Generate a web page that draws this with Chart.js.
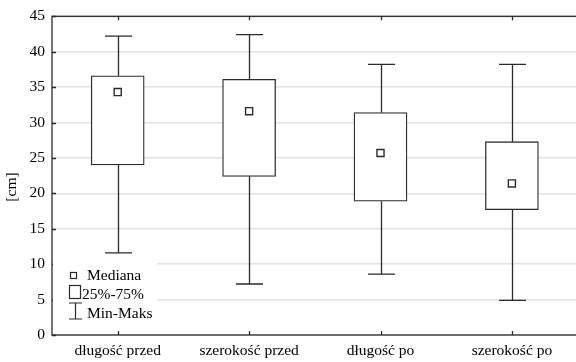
<!DOCTYPE html>
<html>
<head>
<meta charset="utf-8">
<script src="https://cdn.jsdelivr.net/npm/chart.js@4.4.1/dist/chart.umd.min.js"></script>
<style>
  html, body { margin: 0; padding: 0; background: #fff; overflow: hidden; }
  #wrap { width: 584px; height: 362px; }
</style>
</head>
<body>
<div id="wrap"><canvas id="boxChart" width="584" height="362"></canvas></div>
<script>
// dane
const categories = ['długość przed', 'szerokość przed', 'długość po', 'szerokość po'];
const minVals = [11.6, 7.2, 8.6, 4.9];
const q1Vals = [24.0, 22.4, 18.9, 17.7];
const medianVals = [34.3, 31.6, 25.7, 21.4];
const q3Vals = [36.6, 36.1, 31.4, 27.3];
const maxVals = [42.2, 42.4, 38.2, 38.2];
const yTicks = [0, 5, 10, 15, 20, 25, 30, 35, 40, 45];

const FONT = 'Liberation Serif';
const LINE = '#2b2b2b';

// wąsy, ramka i legenda rysowane przez skale Chart.js
const boxDecor = {
    id: 'boxDecor',
    beforeDatasetsDraw(chart) {
        const ctx = chart.ctx;
        const x = chart.scales.x, y = chart.scales.y;
        ctx.save();
        ctx.strokeStyle = LINE;
        ctx.lineWidth = 1.3;
        categories.forEach((c, i) => {
            const cx = Math.round(x.getPixelForValue(i)) + 0.5;
            const yMin = y.getPixelForValue(minVals[i]);
            const yMax = y.getPixelForValue(maxVals[i]);
            const yQ1 = y.getPixelForValue(q1Vals[i]);
            const yQ3 = y.getPixelForValue(q3Vals[i]);
            ctx.beginPath();
            ctx.moveTo(cx, yQ3); ctx.lineTo(cx, yMax);
            ctx.moveTo(cx - 13.5, yMax); ctx.lineTo(cx + 13.5, yMax);
            ctx.moveTo(cx, yQ1); ctx.lineTo(cx, yMin);
            ctx.moveTo(cx - 13.5, yMin); ctx.lineTo(cx + 13.5, yMin);
            ctx.stroke();
        });
        ctx.restore();
    },
    afterDraw(chart) {
        const ctx = chart.ctx;
        const a = chart.chartArea;
        const x = chart.scales.x, y = chart.scales.y;
        ctx.save();
        // ramka
        ctx.strokeStyle = LINE;
        ctx.lineWidth = 1.3;
        ctx.strokeRect(a.left, a.top, a.right - a.left, a.bottom - a.top);
        // znaczniki osi (do środka)
        ctx.beginPath();
        categories.forEach((c, i) => {
            const cx = Math.round(x.getPixelForValue(i)) + 0.5;
            ctx.moveTo(cx, a.top); ctx.lineTo(cx, a.top + 4);
            ctx.moveTo(cx, a.bottom); ctx.lineTo(cx, a.bottom - 4);
        });
        yTicks.forEach(v => {
            const py = Math.round(y.getPixelForValue(v)) + 0.5;
            ctx.moveTo(a.left, py); ctx.lineTo(a.left + 4, py);
        });
        ctx.stroke();

        // tytuł osi Y
        ctx.fillStyle = '#000';
        ctx.font = '15.5px "' + FONT + '"';
        ctx.save();
        ctx.translate(12, 187);
        ctx.rotate(-Math.PI / 2);
        ctx.textAlign = 'center';
        ctx.textBaseline = 'middle';
        ctx.fillText('[cm]', 0, 0);
        ctx.restore();

        // legenda
        const L = a.left, B = a.bottom;
        ctx.fillStyle = '#fff';
        ctx.fillRect(L + 1, B - 73, 104, 59);
        ctx.lineWidth = 1.2;
        ctx.strokeStyle = LINE;
        ctx.strokeRect(L + 18.5, B - 62.5, 6, 6);
        ctx.strokeRect(L + 17.5, B - 49.5, 11, 13);
        ctx.beginPath();
        ctx.moveTo(L + 23.5, B - 32); ctx.lineTo(L + 23.5, B - 16);
        ctx.moveTo(L + 17, B - 32); ctx.lineTo(L + 30, B - 32);
        ctx.moveTo(L + 17, B - 16); ctx.lineTo(L + 30, B - 16);
        ctx.stroke();
        ctx.fillStyle = '#000';
        ctx.textBaseline = 'alphabetic';
        ctx.fillText('Mediana', L + 35, B - 55);
        ctx.fillText('25%-75%', L + 30, B - 36);
        ctx.fillText('Min-Maks', L + 35, B - 17);
        ctx.restore();
    }
};

new Chart(document.getElementById('boxChart'), {
    data: {
        labels: categories,
        datasets: [
            {
                type: 'bar',
                label: '25%-75%',
                data: q1Vals.map((q, i) => [q, q3Vals[i]]),
                backgroundColor: '#ffffff',
                borderColor: LINE,
                borderWidth: 1.3,
                borderSkipped: false,
                barThickness: 53,
                order: 2
            },
            {
                type: 'line',
                label: 'Mediana',
                data: medianVals,
                showLine: false,
                pointStyle: 'rect',
                pointRadius: 5,
                pointBackgroundColor: '#ffffff',
                pointBorderColor: LINE,
                pointBorderWidth: 1.4,
                order: 1
            }
        ]
    },
    options: {
        responsive: false,
        animation: false,
        devicePixelRatio: 1,
        layout: { padding: { left: 0, right: 2, top: 11, bottom: 0 } },
        plugins: {
            legend: { display: false },
            tooltip: { enabled: false }
        },
        scales: {
            x: {
                grid: { display: false, drawTicks: false },
                border: { display: false },
                ticks: {
                    color: '#000',
                    font: { family: FONT, size: 15.5 },
                    padding: 7,
                    maxRotation: 0
                },
                afterFit(scale) { scale.height = 27; }
            },
            y: {
                min: 0,
                max: 45,
                afterBuildTicks(scale) { scale.ticks = yTicks.map(v => ({ value: v })); },
                grid: { color: '#e2e2e2', lineWidth: 1.5, drawTicks: false },
                border: { display: false },
                ticks: {
                    color: '#000',
                    font: { family: FONT, size: 15.5 },
                    padding: 7
                },
                afterFit(scale) { scale.width = 52; }
            }
        }
    },
    plugins: [boxDecor]
});
</script>
</body>
</html>
